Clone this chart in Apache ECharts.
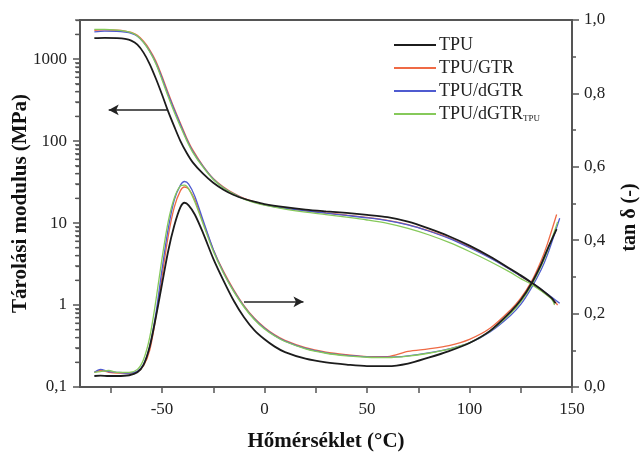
<!DOCTYPE html>
<html>
<head>
<meta charset="utf-8">
<script src="https://cdn.jsdelivr.net/npm/echarts@6/dist/echarts.min.js"></script>
<style>
  html, body { margin: 0; padding: 0; background: #fff; }
  #chart { width: 644px; height: 453px; }
</style>
</head>
<body>
<div id="chart"></div>
<script>
// series names (legend order)
const seriesNames = ['TPU', 'TPU/GTR', 'TPU/dGTR', 'TPU/dGTRTPU'];
const colors = ['#1c1c1c', '#ef6a45', '#4f5bd0', '#86c95a'];

// axes ranges and ticks
const xMin = -90, xMax = 150;
const yMin = 0.1, yMax = 3000;
const xMajor = [-50, 0, 50, 100, 150];
const xMinor = [-75, -25, 25, 75, 125];
const logMajor = [0.1, 1, 10, 100, 1000];
const logMinor = [0.2, 0.3, 0.4, 0.5, 0.6, 0.7, 0.8, 0.9,
  2, 3, 4, 5, 6, 7, 8, 9, 20, 30, 40, 50, 60, 70, 80, 90,
  200, 300, 400, 500, 600, 700, 800, 900, 2000, 3000];

// storage modulus (MPa) vs temperature (°C)
const tMod = [-83, -78, -72, -68, -65, -62, -59, -56, -53, -50, -47, -44, -41, -38, -35, -30, -25, -20, -15, -10,
  -5, 0, 10, 20, 30, 40, 50, 60, 70, 80, 90, 100, 110, 120, 125, 130, 135, 140];
const modEnd = [142, 143, 144, 141.5];
const modTPU = [1800, 1820, 1800, 1760, 1680, 1500, 1200, 870, 580, 370, 230, 150, 100, 72, 55, 40, 31, 25.5, 22, 19.8,
  18.2, 17, 15.6, 14.6, 13.9, 13.3, 12.6, 11.8, 10.4, 8.6, 6.9, 5.3, 3.9, 2.75, 2.3, 1.9, 1.55, 1.22, 1.05];
const modGTR = [2250, 2280, 2250, 2200, 2120, 1950, 1650, 1300, 950, 620, 390, 250, 165, 110, 78, 50, 35, 27.5, 23, 20,
  18.2, 16.8, 15.2, 14.2, 13.3, 12.5, 11.7, 10.8, 9.6, 8.1, 6.6, 5.1, 3.8, 2.7, 2.25, 1.88, 1.52, 1.2, 1.0];
const modDGTR = [2150, 2200, 2180, 2130, 2060, 1900, 1600, 1250, 900, 590, 370, 240, 158, 106, 75, 49, 34.5, 27, 22.7, 19.8,
  18, 16.7, 15.1, 14.1, 13.2, 12.4, 11.6, 10.7, 9.5, 8.0, 6.5, 5.0, 3.75, 2.7, 2.25, 1.9, 1.55, 1.25, 1.05];
const modDGTRTPU = [2300, 2300, 2260, 2200, 2100, 1920, 1600, 1230, 880, 560, 350, 225, 150, 102, 73, 48, 34, 26.8, 22.5, 19.6,
  17.8, 16.5, 14.8, 13.6, 12.7, 11.8, 10.9, 9.9, 8.6, 7.2, 5.8, 4.5, 3.4, 2.5, 2.1, 1.8, 1.48, 1.18, 1.0];

// tan delta vs temperature (°C)
const tTan = [-83, -80, -76, -72, -66, -62, -59, -56, -53, -50, -47, -44, -41, -39, -37, -34, -30, -25, -20, -15,
  -10, -5, 0, 5, 10, 20, 30, 40, 50, 60, 70, 80, 90, 100, 110, 120, 125, 130, 135, 138];
const tanEnd = [142.5, 142.5, 144, 143];
const tanTPU = [0.03, 0.031, 0.03, 0.03, 0.032, 0.04, 0.06, 0.11, 0.19, 0.28, 0.37, 0.44, 0.49, 0.502, 0.495, 0.47, 0.42, 0.35, 0.29, 0.235,
  0.19, 0.155, 0.13, 0.11, 0.095, 0.077, 0.067, 0.061, 0.057, 0.057, 0.064, 0.08, 0.098, 0.12, 0.153, 0.205, 0.237, 0.28, 0.335, 0.375, 0.43];
const tanGTR = [0.04, 0.045, 0.04, 0.038, 0.038, 0.042, 0.058, 0.1, 0.19, 0.3, 0.41, 0.49, 0.535, 0.545, 0.54, 0.51, 0.45, 0.375, 0.315, 0.265,
  0.222, 0.188, 0.162, 0.142, 0.127, 0.107, 0.095, 0.088, 0.083, 0.083, 0.097, 0.104, 0.113, 0.13, 0.16, 0.21, 0.242, 0.285, 0.345, 0.39, 0.47];
const tanDGTR = [0.04, 0.048, 0.042, 0.04, 0.038, 0.043, 0.062, 0.11, 0.2, 0.32, 0.43, 0.51, 0.55, 0.56, 0.553, 0.52, 0.455, 0.375, 0.312, 0.262,
  0.22, 0.186, 0.16, 0.14, 0.125, 0.105, 0.093, 0.086, 0.082, 0.081, 0.085, 0.093, 0.104, 0.12, 0.15, 0.195, 0.225, 0.268, 0.32, 0.36, 0.46];
const tanDGTRTPU = [0.04, 0.042, 0.045, 0.04, 0.04, 0.048, 0.075, 0.135, 0.235, 0.35, 0.45, 0.515, 0.548, 0.55, 0.54, 0.505, 0.445, 0.37, 0.31, 0.26,
  0.218, 0.184, 0.158, 0.139, 0.124, 0.104, 0.092, 0.085, 0.081, 0.08, 0.084, 0.092, 0.103, 0.12, 0.152, 0.2, 0.232, 0.275, 0.33, 0.37, 0.45];

const modData = [modTPU, modGTR, modDGTR, modDGTRTPU];
const tanData = [tanTPU, tanGTR, tanDGTR, tanDGTRTPU];

const FONT = 'Liberation Serif';
const AX = '#555';

function zip(ts, vs, end) {
  const xs = ts.concat([end]);
  return vs.map((v, i) => [xs[i], v]);
}
function comma(v, d) {
  return (d == null ? String(v) : v.toFixed(d)).replace('.', ',');
}
const byValue = (a, b) => a - b;

const arrowMark = (from, to) => ({
  silent: true,
  symbol: ['none', 'arrow'],
  symbolSize: [8, 10],
  label: { show: false },
  lineStyle: { color: '#222', width: 1.5, type: 'solid' },
  emphasis: { disabled: true },
  data: [[{ coord: from }, { coord: to }]]
});

// minor ticks of the log axis, placed on the axis through the series' own scale
const minorLogMarks = {
  silent: true,
  symbol: 'rect', symbolSize: [4, 1.3], symbolOffset: [-3, 0],
  label: { show: false },
  itemStyle: { color: AX },
  emphasis: { disabled: true },
  data: logMinor.map(v => ({ coord: [xMin, v] }))
};

const series = [];
// draw coloured first, black on top
[1, 2, 3, 0].forEach(i => {
  series.push({
    name: seriesNames[i], type: 'line', xAxisIndex: 0, yAxisIndex: 0,
    data: zip(tMod, modData[i], modEnd[i]),
    showSymbol: false, symbol: 'none', smooth: 0.3,
    lineStyle: { color: colors[i], width: i === 0 ? 1.8 : 1.3 },
    itemStyle: { color: colors[i] },
    markLine: i === 0 ? arrowMark([-47, 240], [-76, 240]) : undefined,
    markPoint: i === 0 ? minorLogMarks : undefined
  });
  series.push({
    name: seriesNames[i], type: 'line', xAxisIndex: 0, yAxisIndex: 1,
    data: zip(tTan, tanData[i], tanEnd[i]),
    showSymbol: false, symbol: 'none', smooth: 0.3,
    lineStyle: { color: colors[i], width: i === 0 ? 1.8 : 1.3 },
    itemStyle: { color: colors[i] },
    markLine: i === 0 ? arrowMark([-10, 0.232], [19, 0.232]) : undefined
  });
});

const chart = echarts.init(document.getElementById('chart'));
chart.setOption({
  animation: false,
  backgroundColor: '#fff',
  textStyle: { fontFamily: FONT },
  grid: { left: 80, right: 72, top: 20, bottom: 66, show: true, borderColor: AX, borderWidth: 2, outerBoundsMode: 'none' },
  legend: {
    data: seriesNames,
    orient: 'vertical', left: 389, top: 31,
    icon: 'rect', itemWidth: 42, itemHeight: 2, itemGap: 5,
    textStyle: {
      fontFamily: FONT, fontSize: 18, color: '#222', padding: [0, 0, 0, -2],
      rich: { sub: { fontFamily: FONT, fontSize: 9, color: '#222', verticalAlign: 'bottom', padding: [10, 0, 0, 0] } }
    },
    formatter: n => n === 'TPU/dGTRTPU' ? 'TPU/dGTR{sub|TPU}' : n
  },
  xAxis: [{
    type: 'value', min: xMin, max: xMax, position: 'bottom',
    name: 'Hőmérséklet (°C)', nameLocation: 'middle', nameGap: 44, nameMoveOverlap: false,
    nameTextStyle: { fontFamily: FONT, fontWeight: 'bold', fontSize: 21, color: '#111' },
    axisLine: { show: true, onZero: false, lineStyle: { color: AX, width: 2 } },
    axisTick: { show: true, length: 6, customValues: xMajor.concat(xMinor).sort(byValue), lineStyle: { color: AX, width: 1.5 } },
    axisLabel: { customValues: xMajor, margin: 14, fontSize: 17, color: '#222', fontFamily: FONT },
    splitLine: { show: false }
  }],
  yAxis: [{
    type: 'log', logBase: 10, min: yMin, max: yMax, position: 'left',
    name: 'Tárolási modulus (MPa)', nameLocation: 'middle', nameGap: 49, nameRotate: 90, nameMoveOverlap: false,
    nameTextStyle: { fontFamily: FONT, fontWeight: 'bold', fontSize: 21, color: '#111' },
    axisLine: { show: true, onZero: false, lineStyle: { color: AX, width: 2 } },
    axisTick: { show: true, length: 7, customValues: logMajor, lineStyle: { color: AX, width: 1.5 } },
    axisLabel: { customValues: logMajor, margin: 13, fontSize: 17, color: '#222', fontFamily: FONT, formatter: v => comma(v) },
    splitLine: { show: false }
  }, {
    type: 'value', min: 0, max: 1, interval: 0.2, position: 'right',
    name: 'tan δ (-)', nameLocation: 'middle', nameGap: 48, nameRotate: 90, nameMoveOverlap: false,
    nameTextStyle: { fontFamily: FONT, fontWeight: 'bold', fontSize: 20, color: '#111', padding: [0, 28, 0, 0] },
    axisLine: { show: true, onZero: false, lineStyle: { color: AX, width: 2 } },
    axisTick: { show: true, length: 7, lineStyle: { color: AX, width: 1.5 } },
    minorTick: { show: true, splitNumber: 2, length: 4, lineStyle: { color: AX, width: 1.5 } },
    axisLabel: { margin: 12, fontSize: 17, color: '#222', fontFamily: FONT, formatter: v => comma(v, 1) },
    splitLine: { show: false }, minorSplitLine: { show: false }
  }, {
    // linear helper axis in log10 units, only for the short minor ticks
    type: 'value', min: Math.log10(yMin), max: Math.log10(yMax), position: 'left', offset: 0,
    axisLine: { show: false, onZero: false },
    axisTick: { show: true, length: 4, customValues: logMinor.map(v => Math.log10(v)), lineStyle: { color: AX, width: 1.3 } },
    axisLabel: { show: false },
    splitLine: { show: false }
  }],
  series: series
});
</script>
</body>
</html>
